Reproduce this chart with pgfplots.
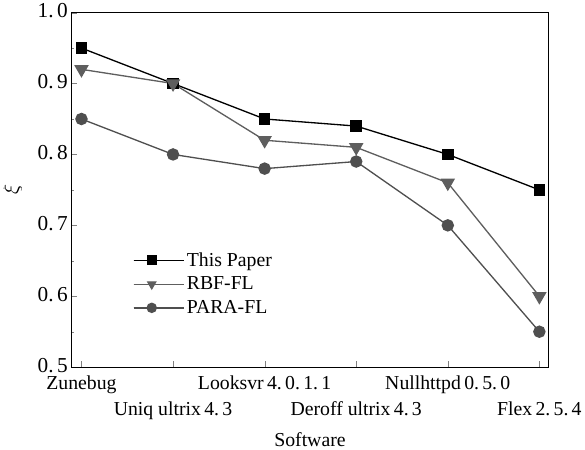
\documentclass[border=0pt]{standalone}
\usepackage{pgfplots}
\pgfplotsset{compat=1.18}
\usepackage{fontspec}
\setmainfont{Liberation Serif}

\definecolor{rbfgray}{HTML}{5E5E5E}
\definecolor{paragray}{HTML}{4F4F4F}

\begin{document}
\begin{tikzpicture}
\begin{axis}[
  width=471pt, height=350pt, scale only axis,
  xmin=-0.11, xmax=5.1,
  ymin=0.5, ymax=1.0,
  xtick={0,1,2,3,4,5},
  xticklabels={
    {Zunebug\\[17pt]\mbox{}},
    {\mbox{}\\[17pt]Uniq ultrix\,4.\,3},
    {Looksvr\,4.\,0.\,1.\,1\\[17pt]\mbox{}},
    {\mbox{}\\[17pt]Deroff ultrix\,4.\,3},
    {Nullhttpd\,0.\,5.\,0\\[17pt]\mbox{}},
    {\mbox{}\\[17pt]Flex\,2.\,5.\,4}},
  xticklabel style={align=center, yshift=-5pt, font=\fontsize{19.5}{22}\selectfont},
  ytick={0.5,0.6,0.7,0.8,0.9,1.0},
  yticklabels={0.\,5,0.\,6,0.\,7,0.\,8,0.\,9,1.\,0},
  yticklabel style={font=\fontsize{21}{24}\selectfont, yshift=2pt},
  minor y tick num=1,
  tick pos=left, tick align=inside,
  major tick length=6pt, minor tick length=3pt,
  axis line style={line width=1.3pt},
  xlabel={Software},
  xlabel style={font=\fontsize{19.5}{22}\selectfont, at={(axis description cs:0.5,-0.204)}, anchor=center},
  ylabel={$\xi$},
  ylabel style={font=\fontsize{22}{24}\selectfont, at={(axis description cs:-0.123,0.5)}, anchor=center},
  legend style={draw=none, fill=none, at={(axis description cs:0.122,0.335)}, anchor=north west,
    font=\fontsize{19.5}{22}\selectfont, row sep=5pt},
  legend cell align=left,
  legend image code/.code={\draw[mark repeat=2, mark phase=2, mark size=4.5pt]
    plot coordinates {(0pt,0pt) (18pt,0pt) (36pt,0pt)};
    \path (0pt,0pt) -- (50pt,0pt);},
]
\addplot[black, line width=1.3pt, mark=square*, mark size=5pt, mark options={solid, fill=black}]
  coordinates {(0,0.95) (1,0.90) (2,0.85) (3,0.84) (4,0.80) (5,0.75)};
\addlegendentry{This Paper}
\addplot[rbfgray, line width=1.3pt, mark=triangle*, mark size=7pt, mark options={solid, rotate=180, fill=rbfgray}]
  coordinates {(0,0.92) (1,0.90) (2,0.82) (3,0.81) (4,0.76) (5,0.60)};
\addlegendentry{RBF-FL}
\addplot[paragray, line width=1.3pt, mark=*, mark size=5.5pt, mark options={solid, fill=paragray}]
  coordinates {(0,0.85) (1,0.80) (2,0.78) (3,0.79) (4,0.70) (5,0.55)};
\addlegendentry{PARA-FL}
\end{axis}
\end{tikzpicture}
\end{document}
